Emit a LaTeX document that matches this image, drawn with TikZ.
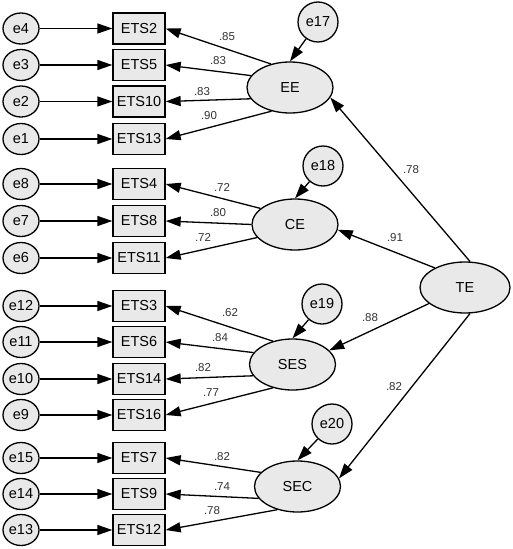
\documentclass[tikz,border=0pt]{standalone}
\usepackage{fontspec}
\setmainfont{Liberation Sans}
\usetikzlibrary{shapes.geometric,arrows.meta}
\begin{document}
\begin{tikzpicture}[x=1pt,y=-1pt,
 every node/.style={font=\fontsize{14.5}{16}\selectfont},
 err/.style={ellipse,draw,line width=1.3pt,fill=gray!17,inner sep=0pt,minimum width=36pt,minimum height=31pt},
 errc/.style={circle,draw,line width=1.3pt,fill=gray!17,inner sep=0pt,minimum size=40pt},
 obs/.style={rectangle,draw,line width=1.3pt,fill=gray!17,inner sep=0pt,minimum width=52pt,minimum height=31pt},
 lat/.style={ellipse,draw,line width=1.3pt,fill=gray!17,inner sep=0pt,minimum width=86pt,minimum height=51pt},
 arr/.style={-{Triangle[length=15pt,width=10pt]},line width=1.3pt},
 lab/.style={font=\fontsize{11.5}{12}\selectfont,text=black!80,inner sep=0pt}
]
\useasboundingbox (0,0) rectangle (512,549);
% observed indicators with their errors
\foreach \e/\m/\y in {e4/ETS2/28.5,e3/ETS5/65,e2/ETS10/101.5,e1/ETS13/139,
  e8/ETS4/184,e7/ETS8/221,e6/ETS11/258,
  e12/ETS3/306,e11/ETS6/342,e10/ETS14/379,e9/ETS16/415,
  e15/ETS7/458,e14/ETS9/494,e13/ETS12/530}{
  \node[err] (\e) at (21,\y) {\e};
  \node[obs] (\m) at (139,\y) {\m};
  \draw[arr] (\e) -- (\m);
}
% latent variables
\node[lat] (EE) at (290,87.5) {EE};
\node[lat] (CE) at (295,224.5) {CE};
\node[lat] (SES) at (292.5,364.5) {SES};
\node[lat] (SEC) at (297.5,486.5) {SEC};
\node[lat,minimum width=90pt] (TE) at (465,287.5) {TE};
% disturbances
\node[errc] (e17) at (318,22) {e17};
\node[errc] (e18) at (323,166) {e18};
\node[errc] (e19) at (322,304) {e19};
\node[errc] (e20) at (332,424) {e20};
\draw[arr] (e17) -- (EE.north);
\draw[arr] (e18) -- (CE.north);
\draw[arr] (e19) -- (SES.north);
\draw[arr] (e20) -- (SEC.north);
% loadings
\draw[arr] (EE.129) -- (ETS2.east);
\draw[arr] (EE.163) -- (ETS5.east);
\draw[arr] (EE.196) -- (ETS10.east);
\draw[arr] (EE.232) -- (ETS13.east);
\draw[arr] (CE.155) -- (ETS4.east);
\draw[arr] (CE.180) -- (ETS8.east);
\draw[arr] (CE.199) -- (ETS11.east);
\draw[arr] (SES.130) -- (ETS3.east);
\draw[arr] (SES.163) -- (ETS6.east);
\draw[arr] (SES.196) -- (ETS14.east);
\draw[arr] (SES.230) -- (ETS16.east);
\draw[arr] (SEC.159) -- (ETS7.east);
\draw[arr] (SEC.197) -- (ETS9.east);
\draw[arr] (SEC.229) -- (ETS12.east);
% second order
\draw[arr] (TE.79) -- (EE.-14);
\draw[arr] (TE.147) -- (CE.-7);
\draw[arr] (TE.204) -- (SES.21);
\draw[arr] (TE.281) -- (SEC.11);
% labels
\node[lab] (l1) at (227,37) {.85};
\node[lab] (l2) at (218,61) {.83};
\node[lab] (l3) at (202,92) {.83};
\node[lab] (l4) at (209,116) {.90};
\node[lab] (l5) at (222,187) {.72};
\node[lab] (l6) at (218,213) {.80};
\node[lab] (l7) at (203,237) {.72};
\node[lab] (l8) at (230,313) {.62};
\node[lab] (l9) at (220,338) {.84};
\node[lab] (l10) at (203,368) {.82};
\node[lab] (l11) at (211,393) {.77};
\node[lab] (l12) at (222,457) {.82};
\node[lab] (l13) at (222,487) {.74};
\node[lab] (l14) at (212,511) {.78};
\node[lab] (l15) at (411,170) {.78};
\node[lab] (l16) at (395,238) {.91};
\node[lab] (l17) at (370,318) {.88};
\node[lab] (l18) at (394,387) {.82};
\end{tikzpicture}
\end{document}
